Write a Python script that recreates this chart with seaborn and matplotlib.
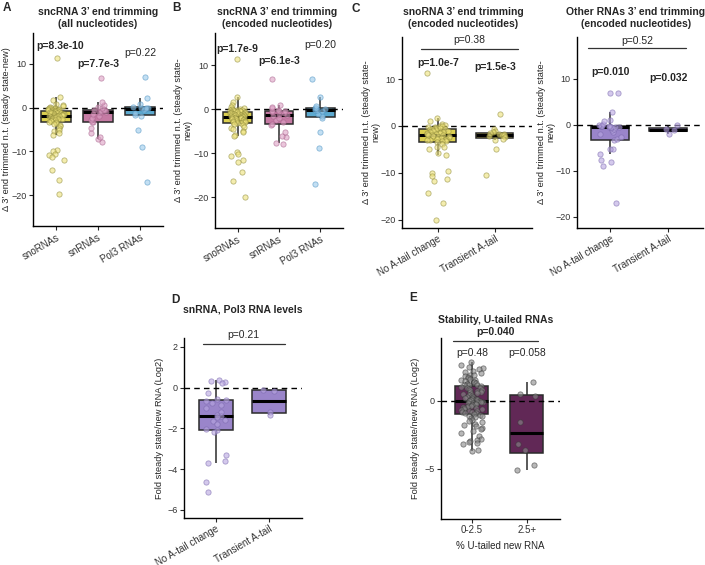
import numpy as np
import pandas as pd
import seaborn as sns
import matplotlib.pyplot as plt

sns.set_style("ticks")
plt.rcParams["font.family"] = ["Liberation Sans", "DejaVu Sans"]
np.random.seed(3)

# ---- data ----
cats_abc = ["snoRNAs", "snRNAs", "Pol3 RNAs"]
cats_tail = ["No A-tail change", "Transient A-tail"]
cats_u = ["0-2.5", "2.5+"]

# A: all nucleotides
sno_all = [11.3, 2.3, 1.8, 0.9, 0.6, 0.4, 0.2, 0.0, -0.1, -0.2, -0.3, -0.3, -0.4, -0.5, -0.5, -0.6, -0.6, -0.7,
           -0.8, -0.85, -0.9, -1.0, -1.0, -1.1, -1.15, -1.2, -1.3, -1.3, -1.4, -1.5, -1.5, -1.6, -1.7, -1.7, -1.8, -1.9,
           -1.9, -2.0, -2.0, -2.1, -2.1, -2.2, -2.3, -2.4, -2.4, -2.5, -2.6, -2.7, -2.8, -2.9, -3.0, -3.1, -3.2, -3.3,
           -3.5, -3.8, -4.0, -4.3, -4.6, -5.0, -5.3, -5.8, -6.2, -9.6, -9.9, -10.5, -10.9, -11.3, -11.9, -14.3, -16.4, -19.8]
sn_all = [-7.9, -7.1, -6.6, -5.7, -4.6, -3.4, -3.2, -2.8, -2.4, -2.0, -1.4, -1.1, -1.0, -0.9, -0.8, -0.6,
          -0.5, -0.5, -0.2, 0.2, 0.6, 1.2, 6.7]
pol3_all = [-17.0, -8.9, -5.2, -2.0, -1.6, -1.2, -0.6, -0.3, -0.2, -0.1, 0.0, 0.2, 0.8, 2.1, 7.0]

# B: encoded nucleotides
sno_enc = [11.4, 2.7, 1.7, 1.0, 0.5, 0.3, 0.1, 0.0, -0.1, -0.2, -0.3, -0.3, -0.4, -0.4, -0.5, -0.5, -0.6, -0.6,
           -0.7, -0.8, -0.9, -0.9, -1.0, -1.1, -1.1, -1.2, -1.3, -1.3, -1.4, -1.5, -1.5, -1.6, -1.6, -1.7, -1.8, -1.8,
           -1.9, -1.9, -2.0, -2.1, -2.1, -2.2, -2.3, -2.3, -2.4, -2.5, -2.6, -2.7, -2.8, -2.9, -3.0, -3.0, -3.1, -3.2,
           -3.4, -3.7, -4.0, -4.2, -4.5, -4.9, -5.3, -5.8, -6.1, -9.7, -10.3, -10.7, -11.6, -12.0, -14.3, -16.4, -20.0]
sn_enc = [-8.0, -7.6, -6.4, -6.1, -5.1, -3.5, -3.3, -2.9, -2.5, -2.0, -1.6, -1.3, -1.1, -0.9, -0.7, -0.5,
          -0.4, -0.4, -0.2, 0.3, 0.5, 1.0, 6.9]
pol3_enc = [-16.9, -8.8, -5.1, -2.0, -1.6, -1.0, -0.5, -0.2, -0.1, 0.0, 0.2, 0.3, 0.7, 2.7, 6.9]

# C: snoRNA / other RNAs by A-tail status
sno_noA = [11.4, 1.6, 1.0, 0.5, 0.2, 0.0, -0.1, -0.2, -0.3, -0.4, -0.5, -0.5, -0.6, -0.6, -0.7,
           -0.8, -0.9, -1.0, -1.1, -1.2, -1.3, -1.4, -1.5, -1.6, -1.7, -1.8, -1.9, -1.9, -2.0, -2.1,
           -2.2, -2.3, -2.4, -2.5, -2.6, -2.7, -2.8, -2.9, -3.0, -3.1, -3.2, -3.3, -3.4, -3.8,
           -4.4, -4.6, -5.0, -5.8, -6.2, -9.7, -10.1, -10.7, -11.4, -11.8, -14.4, -16.4, -20.0]
sno_trans = [2.6, -0.7, -1.0, -1.3, -1.5, -1.7, -1.8, -1.9, -2.0, -2.2, -2.4, -2.7, -3.0, -4.9, -10.4]
oth_noA = [-17.0, -8.9, -8.0, -7.7, -6.3, -5.3, -5.2, -3.3, -3.1, -2.6, -2.0, -1.5, -1.1, -0.8, -0.6, -0.5,
           -0.45, -0.4, -0.4, -0.35, -0.3, -0.3, -0.3, -0.25, 0.0, 0.3, 0.8, 1.0, 2.9, 7.0, 7.0]
oth_trans = [-0.1, -0.9, -1.1, -2.0]

# D: snRNA, Pol3 RNA levels
lev_noA = [0.4, 0.35, 0.3, 0.25, -0.25, -0.55, -0.6, -0.65, -0.75, -0.85, -1.0, -1.2, -1.35, -1.4, -1.45,
           -1.6, -1.65, -1.8, -2.05, -2.1, -2.2, -3.3, -3.6, -3.7, -4.65, -5.1]
lev_trans = [-0.1, -0.15, -1.2, -1.35]

# E: stability by % U-tailed new RNA
u_low = [2.8, 2.6, 2.5, 2.4, 2.3, 2.2, 2.1, 2.0, 1.9, 1.85, 1.8, 1.7, 1.65, 1.6, 1.55, 1.5, 1.45, 1.4, 1.35, 1.3,
         1.25, 1.2, 1.18, 1.15, 1.12,
         1.05, 1.0, 0.95, 0.9, 0.85, 0.8, 0.75, 0.7, 0.65, 0.6, 0.55, 0.5, 0.45, 0.4, 0.35, 0.3, 0.27, 0.22, 0.18,
         0.15, 0.12, 0.09, 0.06, 0.04, 0.02,
         -0.02, -0.05, -0.08, -0.1, -0.13, -0.16, -0.2, -0.24, -0.28, -0.32, -0.36, -0.4, -0.44, -0.48, -0.52,
         -0.56, -0.6, -0.65, -0.7, -0.74, -0.78, -0.82, -0.86, -0.9, -0.94,
         -1.0, -1.05, -1.1, -1.15, -1.2, -1.3, -1.4, -1.5, -1.6, -1.7, -1.8, -1.9, -2.0, -2.1, -2.2, -2.4, -2.6,
         -2.8, -2.9, -3.0, -3.05, -3.1, -3.2, -3.6, -3.7]
u_high = [-5.1, -4.7, -3.6, -3.2, -1.6, 0.35, 0.45, 1.4]

# ---- colours ----
yellow, pink, blue = "#F3E33A", "#D36EA5", "#4AB0E3"
purple, plum = "#9579D6", "#6B1E5C"
yel_pt, yel_ed = "#EEE27A", "#8E8A3A"
pink_pt, pink_ed = "#DDA0C4", "#A8648C"
blue_pt, blue_ed = "#9CCBEB", "#4F93C2"
pur_pt, pur_ed = "#B8A6E0", "#7A69AE"
grey_pt, grey_ed = "#8A8A8A", "#3A3A3A"

W, H = 705, 565
fig = plt.figure(figsize=(W / 100, H / 100), dpi=100)


def rect(x0, y0, x1, y1):
    return [x0 / W, 1 - y1 / H, (x1 - x0) / W, (y1 - y0) / H]


def ftext(x, y, s, **kw):
    fig.text(x / W, 1 - y / H, s, ha="center", va="center", **kw)


def panel(ax, box, groups, values, box_cols, pt_cols, ed_cols, ylim, xlim, yticks, ylabel, ylab_x,
          rotate=True, width=0.65):
    df = pd.DataFrame({"group": np.repeat(groups, [len(v) for v in values]),
                       "val": np.concatenate(values)})
    sns.boxplot(data=df, x="group", y="val", hue="group", order=groups, hue_order=groups,
                palette=box_cols, width=width, showfliers=False, showcaps=False,
                linewidth=1.1, linecolor="#2b2b2b", legend=False,
                medianprops={"color": "black", "linewidth": 2.2}, ax=ax)
    ax.axhline(0, color="black", lw=1.0, ls=(0, (4, 3)), zorder=3)
    for g, fc, ec in zip(groups, pt_cols, ed_cols):
        sns.stripplot(data=df[df["group"] == g], x="group", y="val", order=groups,
                      color=fc, edgecolor=ec, linewidth=0.6, size=3.8, alpha=0.6,
                      jitter=0.2, zorder=4, ax=ax)
    ax.set_ylim(*ylim)
    ax.set_xlim(*xlim)
    ax.set_yticks(yticks)
    ax.set_xlabel("")
    ax.set_ylabel(ylabel, fontsize=6.7, va="center", linespacing=1.1)
    # place the y label at a fixed pixel column
    ax.yaxis.set_label_coords((ylab_x - box[0]) / (box[2] - box[0]), 0.5)
    sns.despine(ax=ax)
    for s in ["left", "bottom"]:
        ax.spines[s].set_linewidth(1.0)
        ax.spines[s].set_color("black")
    ax.tick_params(length=3, width=0.8, labelsize=6.5, labelcolor="#333333", pad=1.5)
    if rotate:
        ax.set_xticks(range(len(groups)))
        ax.set_xticklabels(groups, rotation=30, ha="right", rotation_mode="anchor", fontsize=7)


def pval(ax, x, y, s, bold=False):
    ax.text(x, y, s, ha="center", va="center", fontsize=7.5,
            fontweight="bold" if bold else "normal", clip_on=False)


def bracket(ax, x0, x1, y):
    ax.plot([x0, x1], [y, y], color="#333333", lw=0.9, clip_on=False)


ylab3 = "\u0394 3\u2019 end trimmed n.t. (steady state-\nnew)"
ylab_fold = "Fold steady state/new RNA (Log2)"

# A
bA = (33, 33, 163, 226)
axA = fig.add_axes(rect(*bA))
panel(axA, bA, cats_abc, [sno_all, sn_all, pol3_all], [yellow, pink, blue],
      [yel_pt, pink_pt, blue_pt], [yel_ed, pink_ed, blue_ed],
      (-27, 17), (-0.55, 2.55), [-20, -10, 0, 10],
      "\u0394 3\u2019 end trimmed n.t. (steady state-new)", 7, width=0.7)
pval(axA, 0.1, 14.1, "p=8.3e-10", True)
pval(axA, 1, 10.0, "p=7.7e-3", True)
pval(axA, 2, 12.5, "p=0.22")

# B
bB = (215, 33, 343, 228)
axB = fig.add_axes(rect(*bB))
panel(axB, bB, cats_abc, [sno_enc, sn_enc, pol3_enc], [yellow, pink, blue],
      [yel_pt, pink_pt, blue_pt], [yel_ed, pink_ed, blue_ed],
      (-27, 17.3), (-0.55, 2.55), [-20, -10, 0, 10], ylab3, 183, width=0.7)
pval(axB, 0, 13.6, "p=1.7e-9", True)
pval(axB, 1, 10.9, "p=6.1e-3", True)
pval(axB, 2, 14.5, "p=0.20")

# C left
bC = (402, 37, 532, 228)
axC = fig.add_axes(rect(*bC))
panel(axC, bC, cats_tail, [sno_noA, sno_trans], [yellow, yellow],
      [yel_pt, yel_pt], [yel_ed, yel_ed],
      (-21.8, 19), (-0.63, 1.65), [-20, -10, 0, 10], ylab3, 371)
bracket(axC, -0.3, 1.4, 16.5)
pval(axC, 0.55, 18.3, "p=0.38")
pval(axC, 0, 13.5, "p=1.0e-7", True)
pval(axC, 1, 12.6, "p=1.5e-3", True)

# C right
bC2 = (577, 37, 703, 228)
axC2 = fig.add_axes(rect(*bC2))
panel(axC2, bC2, cats_tail, [oth_noA, oth_trans], [purple, purple],
      [pur_pt, pur_pt], [pur_ed, pur_ed],
      (-22.4, 19.1), (-0.57, 1.6), [-20, -10, 0, 10], ylab3, 546)
bracket(axC2, -0.38, 1.3, 16.7)
pval(axC2, 0.46, 18.3, "p=0.52")
pval(axC2, 0, 11.5, "p=0.010", True)
pval(axC2, 1, 10.2, "p=0.032", True)

# D
bD = (184, 338, 302, 518)
axD = fig.add_axes(rect(*bD))
panel(axD, bD, cats_tail, [lev_noA, lev_trans], [purple, purple],
      [pur_pt, pur_pt], [pur_ed, pur_ed],
      (-6.4, 2.44), (-0.6, 1.62), [-6, -4, -2, 0, 2], ylab_fold, 160)
bracket(axD, -0.25, 1.3, 2.16)
pval(axD, 0.52, 2.58, "p=0.21")

# E
bE = (441, 338, 560, 519)
axE = fig.add_axes(rect(*bE))
panel(axE, bE, cats_u, [u_low, u_high], [plum, plum],
      [grey_pt, grey_pt], [grey_ed, grey_ed],
      (-8.7, 4.6), (-0.56, 1.6), [-5, 0], ylab_fold, 415, rotate=False, width=0.6)
axE.tick_params(axis="x", labelsize=7)
axE.set_xlabel("% U-tailed new RNA", fontsize=7, labelpad=4)
bracket(axE, -0.35, 1.2, 4.4)
pval(axE, 0.42, 5.05, "p=0.040", True)
pval(axE, 0, 3.5, "p=0.48")
pval(axE, 1, 3.5, "p=0.058")

# titles and panel letters
tkw = dict(fontsize=7.5, fontweight="bold", linespacing=1.3)
ftext(98, 18, "sncRNA 3\u2019 end trimming\n(all nucleotides)", **tkw)
ftext(277, 18, "sncRNA 3\u2019 end trimming\n(encoded nucleotides)", **tkw)
ftext(463, 18, "snoRNA 3\u2019 end trimming\n(encoded nucleotides)", **tkw)
ftext(636, 18, "Other RNAs 3\u2019 end trimming\n(encoded nucleotides)", **tkw)
ftext(243, 310, "snRNA, Pol3 RNA levels", fontsize=7.5, fontweight="bold")
ftext(496, 320, "Stability, U-tailed RNAs", fontsize=7.5, fontweight="bold")

lkw = dict(fontsize=8.5, fontweight="bold")
ftext(7, 8, "A", **lkw)
ftext(177, 8, "B", **lkw)
ftext(356, 9, "C", **lkw)
ftext(175, 300, "D", **lkw)
ftext(413, 298, "E", **lkw)

fig.savefig("out.png", dpi=100)
